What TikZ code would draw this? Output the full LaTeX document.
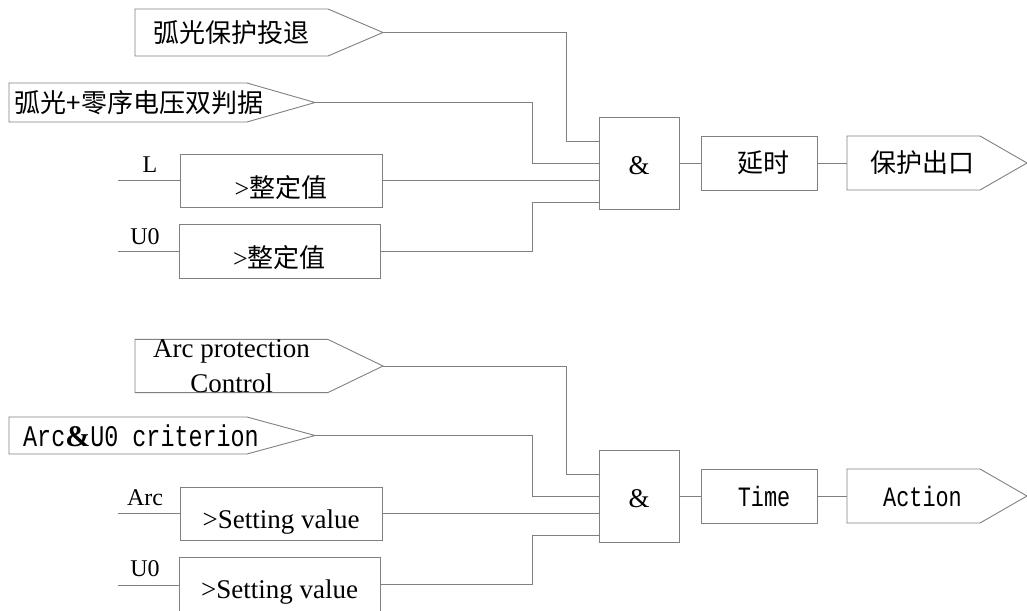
\documentclass[tikz,border=0pt]{standalone}
\usepackage{fontspec}
\setmainfont{Liberation Serif}
\newfontfamily\zhfont{Noto Sans CJK SC}
\newfontfamily\codefont[FakeStretch=0.78]{Liberation Mono}
\usetikzlibrary{positioning,calc}

\begin{document}
\begin{tikzpicture}[
  x=1pt, y=-1pt,
  wire/.style={draw=black!50, line width=0.9pt},
  every node/.style={outer sep=0pt, inner sep=0pt},
  box/.style={wire, rectangle, minimum height=54pt},
  lowtext/.style={text height=#1, text depth=2pt},
  sigflag/.style={rectangle, append after command={\pgfextra{
      \edef\flagnode{\tikzlastnode}
      \draw[wire] (\flagnode.north west) -- (\flagnode.north east)
        -- ([xshift=#1]\flagnode.east) coordinate (\flagnode-tip)
        -- (\flagnode.south east) -- (\flagnode.south west) -- cycle;}}},
  zh/.style={font=\fontsize{26}{30}\selectfont\zhfont},
  rm/.style={font=\fontsize{27}{35}\selectfont},
  lbl/.style={font=\fontsize{24}{28}\selectfont},
  code/.style={font=\fontsize{#1}{32}\selectfont\codefont},
  code/.default=28
]
  \useasboundingbox (0,0) rectangle (1027,610);

  \node[sigflag=55pt, minimum width=193pt, minimum height=47pt, zh] (ctrl) at (231.5,32.5) {弧光保护投退};
  \node[sigflag=68pt, minimum width=238pt, minimum height=39pt, zh] (crit) at (128,102.5) {\makebox[0pt]{\hspace*{22pt}弧光+零序电压双判据}};
  \node[box, minimum width=202pt, minimum height=53pt, zh, lowtext=35pt] (cmpL) at (281,180.5) {{\rmfamily >}整定值};
  \node[box, minimum width=201pt, zh, lowtext=35pt] (cmpU) at (279.5,251) {{\rmfamily >}整定值};
  \node[box, minimum width=80pt, minimum height=92pt, rm, lowtext=24pt] (andA) at (639,163) {\&};
  \node[box, minimum width=116pt, right=22pt of andA, zh] (delay) {\makebox[0pt]{\hspace*{8pt}延时}};
  \node[sigflag=47pt, minimum width=133pt, minimum height=54pt, right=30pt of delay, zh] (trip) {\makebox[0pt]{\hspace*{18pt}保护出口}};

  \node[lbl] (labL) at (150,165) {L};
  \node[lbl] (labU) at (145,237) {U0};
  \coordinate (inL) at (118,180);
  \coordinate (inU) at (118,251);
  \coordinate (busA) at (566,0);
  \coordinate (busB) at (532,0);
  \coordinate (andA-1) at ([yshift=22pt]andA.west);
  \coordinate (andA-4) at ([yshift=-39pt]andA.west);

  \draw[wire] (inL) -- (inL -| cmpL.west);
  \draw[wire] (inU) -- (inU -| cmpU.west);
  \draw[wire] (ctrl-tip) -| (busA |- andA-1) -- (andA-1);
  \draw[wire] (crit-tip) -| (busB |- andA.west) -- (andA.west);
  \draw[wire] (cmpL.east) -- (cmpL.east -| andA.west);
  \draw[wire] (cmpU.east) -| (busB |- andA-4) -- (andA-4);
  \draw[wire] (andA) -- (delay);
  \draw[wire] (delay) -- (trip);

  \node[sigflag=55pt, minimum width=193pt, minimum height=46pt, rm, align=center] (ctrlE) at (231.5,366) {Arc protection\\Control};
  \node[sigflag=68pt, minimum width=238pt, minimum height=37pt, code=30] (critE) at (128,435.5) {\makebox[0pt]{\hspace*{26pt}Arc{\rmfamily\bfseries\&}U0 criterion}};
  \node[box, minimum width=202pt, minimum height=53pt, rm, lowtext=31pt] (cmpA) at (281,513.5) {>Setting value};
  \node[box, minimum width=201pt, rm, lowtext=31pt] (cmpV) at (279.5,584) {>Setting value};
  \node[box, minimum width=80pt, minimum height=92pt, rm, lowtext=24pt] (andE) at (639,496) {\&};
  \node[box, minimum width=116pt, right=22pt of andE, code] (timeE) {\makebox[0pt]{\hspace*{10pt}Time}};
  \node[sigflag=47pt, minimum width=133pt, minimum height=54pt, right=30pt of timeE, code] (actE) {\makebox[0pt]{\hspace*{18pt}Action}};

  \node[lbl] (labA) at (145,498) {Arc};
  \node[lbl] (labV) at (145,569) {U0};
  \coordinate (inA) at (118,513);
  \coordinate (inV) at (118,585);
  \coordinate (andE-1) at ([yshift=22pt]andE.west);
  \coordinate (andE-4) at ([yshift=-39pt]andE.west);

  \draw[wire] (inA) -- (inA -| cmpA.west);
  \draw[wire] (inV) -- (inV -| cmpV.west);
  \draw[wire] (ctrlE-tip) -| (busA |- andE-1) -- (andE-1);
  \draw[wire] (critE-tip) -| (busB |- andE.west) -- (andE.west);
  \draw[wire] (cmpA.east) -- (cmpA.east -| andE.west);
  \draw[wire] (cmpV.east) -| (busB |- andE-4) -- (andE-4);
  \draw[wire] (andE) -- (timeE);
  \draw[wire] (timeE) -- (actE);
\end{tikzpicture}
\end{document}
